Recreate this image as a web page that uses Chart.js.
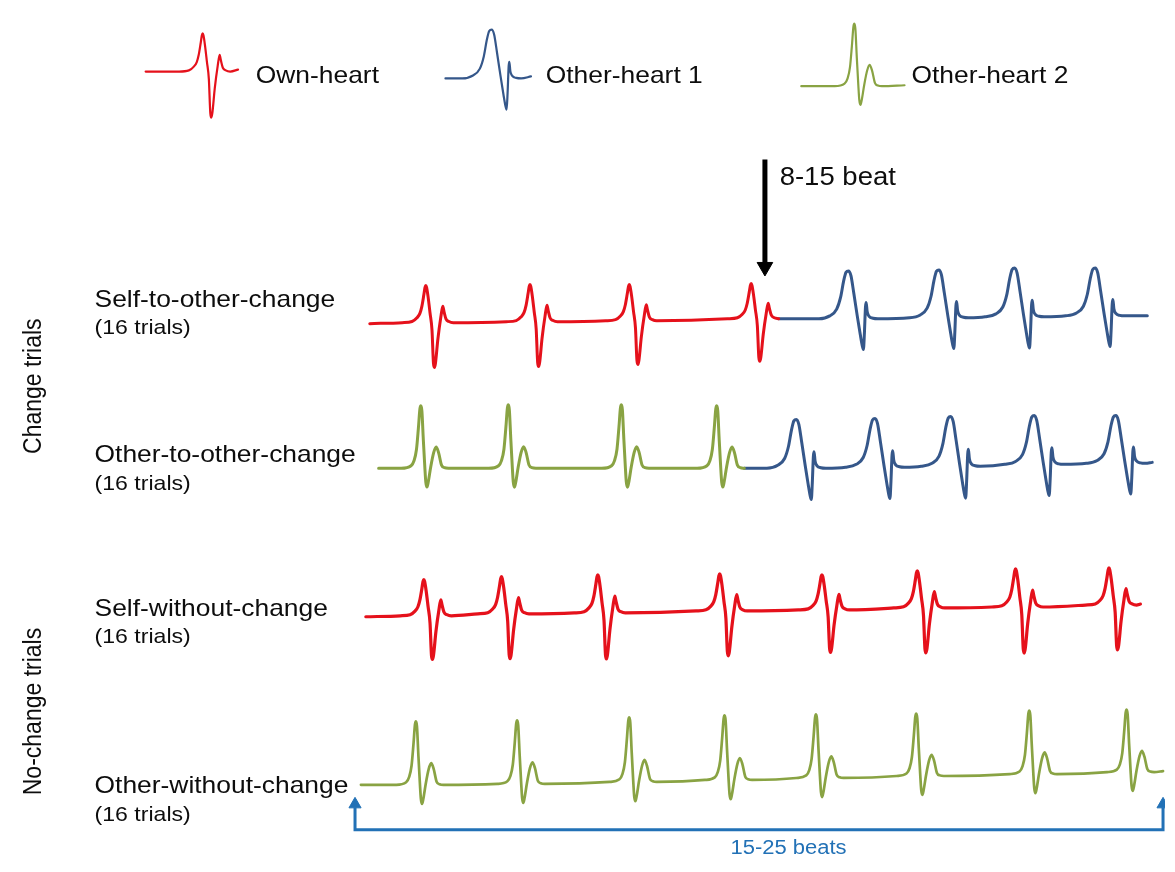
<!DOCTYPE html>
<html>
<head>
<meta charset="utf-8">
<script src="https://cdn.jsdelivr.net/npm/chart.js@4.4.1/dist/chart.umd.min.js"></script>
<style>
  html, body { margin: 0; padding: 0; background: #fff; }
  #wrap { width: 1175px; height: 872px; }
</style>
</head>
<body>
<div id="wrap"><canvas id="heartChart" width="1175" height="872"></canvas></div>
<script>
// Textes de la figure
const LEGEND_LABELS = ['Own-heart', 'Other-heart 1', 'Other-heart 2'];
const ROW_LABELS = ['Self-to-other-change', 'Other-to-other-change', 'Self-without-change', 'Other-without-change'];
const TRIALS_LABEL = '(16 trials)';
const GROUP_LABELS = ['Change trials', 'No-change trials'];
const CHANGE_LABEL = '8-15 beat';
const SPAN_LABEL = '15-25 beats';

// Forme d'un battement (dx en px depuis le pic, v = fraction de la hauteur du pic)
const OWN_DX = [-24, -14, -9, -6, -4, -2, -0.8, 0, 0.8, 2.3, 4.3, 6.3, 7.8, 8.8, 9.8, 12.3, 15.3, 17.3, 18.5, 20.5, 23.5, 28];
const OWN_V = [0, 0.03, 0.13, 0.25, 0.44, 0.75, 0.95, 1, 0.95, 0.7, 0.26, -0.2, -1.1, -1.21, -1.1, -0.44, 0.15, 0.44, 0.3, 0.1, 0.03, 0];
const OTHER1_DX = [-30, -19, -12, -8, -5, -2.5, 0, 2.5, 5.5, 9, 12, 14, 15.2, 16.2, 17.3, 18, 19, 21, 25, 30];
const OTHER1_V = [0, 0.06, 0.2, 0.45, 0.78, 0.97, 1, 0.9, 0.52, 0.05, -0.33, -0.56, -0.64, -0.3, 0.25, 0.34, 0.15, 0.05, 0.01, 0];
const OTHER2_DX = [-20, -10, -7, -4.5, -2.5, -1, 0, 1, 2.5, 4, 5, 6.2, 7.5, 10, 13, 15.5, 18, 21, 24, 28];
const OTHER2_V = [0, 0.04, 0.12, 0.3, 0.65, 0.95, 1, 0.92, 0.45, 0.02, -0.22, -0.3, -0.22, 0.02, 0.25, 0.34, 0.25, 0.05, 0.01, 0];

// Légende : un battement par type
const legendKinds = ['own', 'o1', 'o2'];
const legendPeakX = [196, 490, 859];
const legendPeakY = [24, 20, 14];
const legendBase = [63, 70, 78];
const legendStartX = [138, 443, 805];
const legendEndX = [232, 530, 910];
const legendEndY = [61, 68, 77];

// Ligne 1 : Self-to-other-change
const row1Kinds = ['own', 'own', 'own', 'own', 'o1', 'o1', 'o1', 'o1'];
const row1PeakX = [423, 529, 630, 754, 853, 945, 1022, 1104];
const row1PeakY = [282, 281, 281, 280, 267, 266, 264, 264];
const row1Base = [320, 319, 318, 316, 316, 315, 314, 313];
const row1Start = [366, 321];
const row1End = [1157, 313];

// Ligne 2 : Other-to-other-change
const row2Kinds = ['o2', 'o2', 'o2', 'o2', 'o1', 'o1', 'o1', 'o1', 'o1'];
const row2PeakX = [418, 507, 622, 719, 800, 880, 957, 1042, 1125];
const row2PeakY = [405, 404, 404, 405, 419, 418, 416, 415, 415];
const row2Base = [469, 469, 469, 469, 469, 468, 467, 465, 464];
const row2Start = [375, 469];
const row2End = [1162, 463];

// Ligne 3 : Self-without-change
const row3Kinds = ['own', 'own', 'own', 'own', 'own', 'own', 'own', 'own'];
const row3PeakX = [421, 500, 598, 722, 826, 923, 1023, 1118];
const row3PeakY = [583, 580, 578, 577, 578, 574, 572, 571];
const row3Base = [620, 618, 617, 615, 614, 612, 611, 609];
const row3Start = [362, 621];
const row3End = [1150, 608];

// Ligne 4 : Other-without-change
const row4Kinds = ['o2', 'o2', 'o2', 'o2', 'o2', 'o2', 'o2', 'o2'];
const row4PeakX = [413, 516, 630, 727, 820, 922, 1037, 1136];
const row4PeakY = [728, 727, 724, 722, 721, 720, 717, 716];
const row4Base = [793, 792, 790, 788, 786, 784, 782, 780];
const row4Start = [357, 793];
const row4End = [1173, 779];

// Flèches
const changeArrowX = [768, 768];
const changeArrowY = [153, 262];
const changeTip = [768, 263];
const spanX = [351, 351, 1173, 1173];
const spanY = [816, 839, 839, 816];
const spanTipsX = [351, 1173];
const spanTipsY = [813, 813];

const SHAPES = {
    own: { dx: OWN_DX, v: OWN_V },
    o1: { dx: OTHER1_DX, v: OTHER1_V },
    o2: { dx: OTHER2_DX, v: OTHER2_V }
};
const COLORS = { own: '#e5111b', o1: '#35578a', o2: '#89a343' };

function beatPoints(kind, px, py, base) {
    const s = SHAPES[kind];
    const h = base - py;
    return s.dx.map((d, i) => ({ x: px + d, y: base - s.v[i] * h }));
}

// Découpe une trace en segments de même couleur
function buildTrace(kinds, peakX, peakY, base, start, end) {
    const segs = [];
    let cur = { kind: kinds[0], pts: [{ x: start[0], y: start[1] }] };
    kinds.forEach((k, i) => {
        const pts = beatPoints(k, peakX[i], peakY[i], base[i]);
        if (k !== cur.kind) {
            const last = cur.pts[cur.pts.length - 1];
            segs.push(cur);
            cur = { kind: k, pts: [{ x: last.x, y: last.y }] };
        }
        cur.pts.push(...pts);
    });
    cur.pts.push({ x: end[0], y: end[1] });
    segs.push(cur);
    return segs;
}

const datasets = [];
function addSegs(segs, width) {
    segs.forEach(s => datasets.push({
        data: s.pts,
        borderColor: COLORS[s.kind],
        borderWidth: width,
        borderJoinStyle: 'round',
        borderCapStyle: 'round',
        pointRadius: 0,
        fill: false,
        cubicInterpolationMode: 'monotone'
    }));
}

legendKinds.forEach((k, i) => {
    const pts = [{ x: legendStartX[i], y: legendBase[i] }]
        .concat(beatPoints(k, legendPeakX[i], legendPeakY[i], legendBase[i]))
        .concat([{ x: legendEndX[i], y: legendEndY[i] }]);
    addSegs([{ kind: k, pts }], 2.2);
});
addSegs(buildTrace(row1Kinds, row1PeakX, row1PeakY, row1Base, row1Start, row1End), 3);
addSegs(buildTrace(row2Kinds, row2PeakX, row2PeakY, row2Base, row2Start, row2End), 3);
addSegs(buildTrace(row3Kinds, row3PeakX, row3PeakY, row3Base, row3Start, row3End), 3.2);
addSegs(buildTrace(row4Kinds, row4PeakX, row4PeakY, row4Base, row4Start, row4End), 2.7);

// Flèche noire
datasets.push({
    data: changeArrowX.map((x, i) => ({ x, y: changeArrowY[i] })),
    borderColor: '#000', borderWidth: 5, pointRadius: 0, tension: 0
});
datasets.push({
    data: [{ x: changeTip[0], y: changeTip[1] }],
    showLine: false, pointStyle: 'triangle', rotation: 180, pointRadius: 9,
    backgroundColor: '#000', borderColor: '#000', borderWidth: 1
});
// Accolade bleue
datasets.push({
    data: spanX.map((x, i) => ({ x, y: spanY[i] })),
    borderColor: '#2271b6', borderWidth: 3, pointRadius: 0, tension: 0
});
datasets.push({
    data: spanTipsX.map((x, i) => ({ x, y: spanTipsY[i] })),
    showLine: false, pointStyle: 'triangle', rotation: 0, pointRadius: 7,
    backgroundColor: '#2271b6', borderColor: '#2271b6', borderWidth: 1
});

// Textes (police légèrement étirée horizontalement comme dans l'original)
const textLayer = {
    id: 'textLayer',
    beforeDraw(chart) {
        const { ctx, width, height } = chart;
        ctx.save();
        ctx.fillStyle = '#fff';
        ctx.fillRect(0, 0, width, height);
        ctx.restore();
    },
    afterDraw(chart) {
        const { ctx } = chart;
        const sx = chart.scales.x, sy = chart.scales.y;
        const put = (str, x, y, size, color, opt = {}) => {
            ctx.save();
            ctx.translate(sx.getPixelForValue(x), sy.getPixelForValue(y));
            if (opt.rotate) {
                ctx.rotate(-Math.PI / 2);
                ctx.scale(1, 1.1);
            } else {
                ctx.scale(1.1, 1);
            }
            ctx.font = size + 'px "Liberation Sans", Arial, sans-serif';
            ctx.fillStyle = color;
            ctx.textAlign = opt.align || 'left';
            ctx.textBaseline = 'middle';
            ctx.fillText(str, 0, 0);
            ctx.restore();
        };
        put(LEGEND_LABELS[0], 250, 68, 24, '#0d0d0d');
        put(LEGEND_LABELS[1], 545, 68, 24, '#0d0d0d');
        put(LEGEND_LABELS[2], 917, 68, 24, '#0d0d0d');
        put(CHANGE_LABEL, 783, 172, 25, '#0d0d0d');

        const rowY = [297, 456, 613, 795];
        ROW_LABELS.forEach((lab, i) => {
            put(lab, 86, rowY[i], 24, '#0d0d0d');
            put(TRIALS_LABEL, 86, rowY[i] + 29, 21, '#0d0d0d');
        });
        put(GROUP_LABELS[0], 24, 385, 23, '#0d0d0d', { rotate: true, align: 'center' });
        put(GROUP_LABELS[1], 24, 718, 23, '#0d0d0d', { rotate: true, align: 'center' });
        put(SPAN_LABEL, 792, 858, 20, '#2271b6', { align: 'center' });
    }
};

new Chart(document.getElementById('heartChart'), {
    type: 'line',
    data: { datasets },
    options: {
        responsive: false,
        animation: false,
        layout: { padding: 0 },
        plugins: { legend: { display: false }, tooltip: { enabled: false } },
        scales: {
            x: { type: 'linear', min: 0, max: 1175, display: false },
            y: { type: 'linear', min: 0, max: 872, reverse: true, display: false }
        }
    },
    plugins: [textLayer]
});
</script>
</body>
</html>
